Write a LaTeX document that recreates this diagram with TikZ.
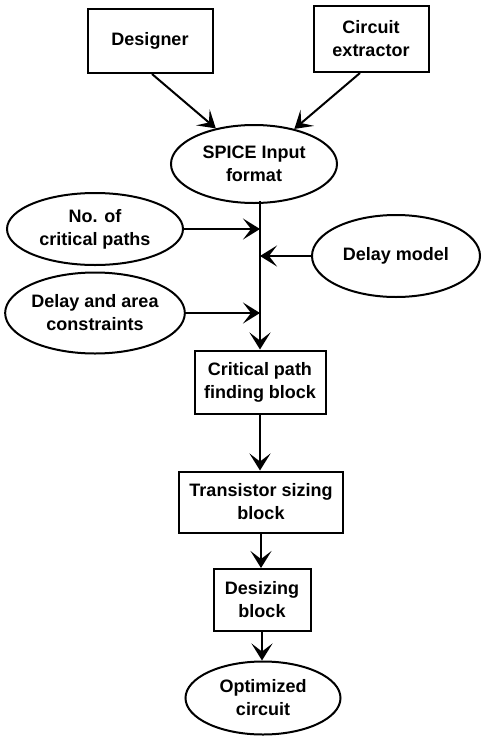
\documentclass[tikz,border=0pt]{standalone}
\usepackage{fontspec}
\setmainfont{Liberation Sans}
\usetikzlibrary{shapes.geometric,arrows.meta}
\begin{document}
\begin{tikzpicture}[x=1pt,y=-1pt,
  every node/.style={font=\fontsize{18}{23}\selectfont\bfseries, align=center, inner sep=0pt},
  blk/.style={draw, rectangle, line width=2pt},
  ell/.style={draw, ellipse, line width=2pt},
  arr/.style={line width=2pt, -{Stealth[length=17pt,width=21pt,inset=8pt]}},
  ln/.style={line width=2pt}]
\useasboundingbox (0,0) rectangle (483,737);
\node[blk, minimum width=125pt, minimum height=64pt] (designer) at (150,41) {Designer};
\node[blk, minimum width=115pt, minimum height=66pt] (circuit) at (371,39) {Circuit\\extractor};
\node[ell, minimum width=166pt, minimum height=78pt] (spice) at (254,164) {SPICE Input\\format};
\node[ell, minimum width=176pt, minimum height=72pt] (ncp) at (95,229) {No. of\\critical paths};
\node[ell, minimum width=168pt, minimum height=82pt] (dm) at (396,256) {Delay model};
\node[ell, minimum width=176pt, minimum height=81pt] (dac) at (95,313) {Delay and area\\constraints};
\node[blk, minimum width=131pt, minimum height=63pt] (cp) at (260,382) {Critical path\\finding block};
\node[blk, minimum width=164pt, minimum height=61pt] (ts) at (261,502) {Transistor sizing\\block};
\node[blk, minimum width=97pt, minimum height=62pt] (ds) at (262,600) {Desizing\\block};
\node[ell, minimum width=155pt, minimum height=73pt] (oc) at (263,698) {Optimized\\circuit};
\coordinate (top) at (260,201);
\coordinate (j1) at (260,229);
\coordinate (j2) at (260,256);
\coordinate (j3) at (260,313);
\draw[arr] ([xshift=2pt]designer.south) -- (spice.137);
\draw[arr] ([xshift=-11pt]circuit.south) -- (spice.41);
\draw[ln] (top) -- (j3);
\draw[arr] (j3) -- (cp.north);
\draw[arr] (ncp.east) -- (j1);
\draw[arr] (dm.west) -- (j2);
\draw[arr] (dac.east) -- (j3);
\draw[arr] (cp.south) -- (cp.south |- ts.north);
\draw[arr] (ts.south) -- (ts.south |- ds.north);
\draw[arr] (ds.south) -- (ds.south |- oc.north);
\end{tikzpicture}
\end{document}
